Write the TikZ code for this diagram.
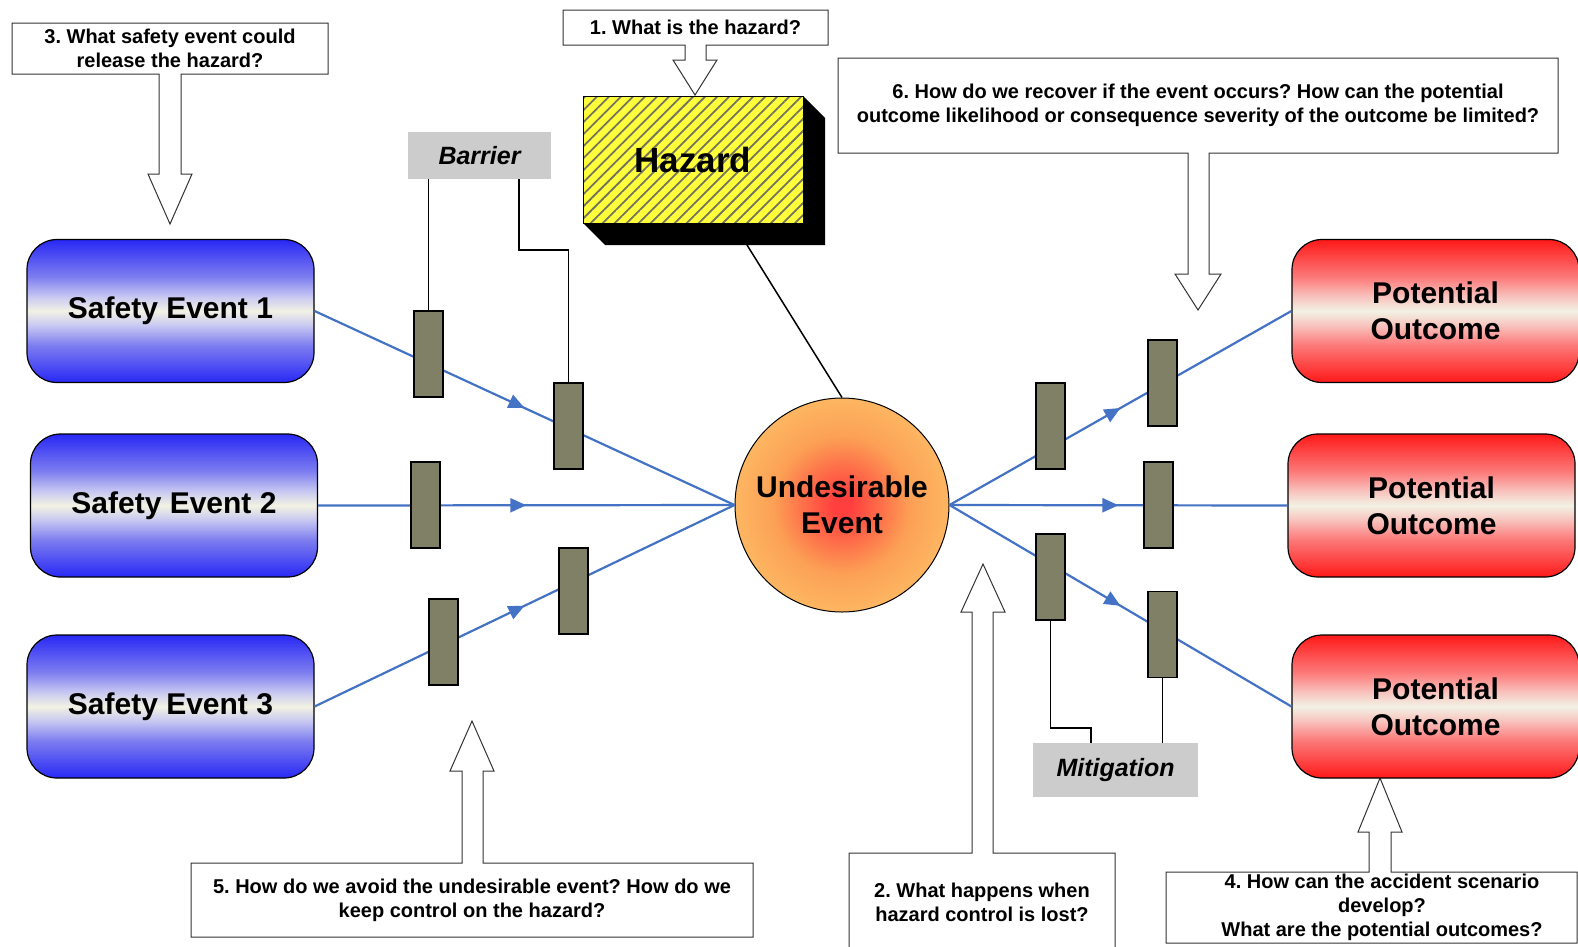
\documentclass[tikz,border=0pt]{standalone}
\usepackage{fontspec}
\setmainfont{Liberation Sans}
\frenchspacing
\usetikzlibrary{patterns.meta,arrows.meta,decorations.markings,calc}
\definecolor{lineblue}{RGB}{68,114,196}
\definecolor{barfill}{RGB}{128,128,102}
\definecolor{lblgray}{RGB}{204,204,204}
\definecolor{hazy}{RGB}{255,255,60}
\definecolor{hatchc}{RGB}{115,115,95}
\definecolor{seB}{RGB}{40,40,245}
\definecolor{seM}{RGB}{125,125,240}
\definecolor{seL}{RGB}{200,200,242}
\definecolor{seW}{RGB}{242,242,228}
\definecolor{poR}{RGB}{255,25,25}
\definecolor{poM}{RGB}{252,120,120}
\definecolor{poL}{RGB}{248,195,190}
\definecolor{ueIn}{RGB}{255,62,62}
\definecolor{ueMid}{RGB}{252,160,85}
\definecolor{ueOut}{RGB}{253,182,98}
\pgfdeclareverticalshading{sebar}{100bp}{color(0bp)=(seB); color(25bp)=(seB); color(38bp)=(seM); color(45bp)=(seL); color(50bp)=(seW); color(55bp)=(seL); color(62bp)=(seM); color(75bp)=(seB); color(100bp)=(seB)}
\pgfdeclareverticalshading{pobar}{100bp}{color(0bp)=(poR); color(25bp)=(poR); color(38bp)=(poM); color(45bp)=(poL); color(50bp)=(seW); color(55bp)=(poL); color(62bp)=(poM); color(75bp)=(poR); color(100bp)=(poR)}
\pgfdeclareradialshading{uesh}{\pgfpoint{0bp}{0bp}}{color(0bp)=(ueIn); color(2bp)=(ueIn); color(16bp)=(ueMid); color(25bp)=(ueOut); color(50bp)=(ueOut)}
\newcommand\qfont{\fontsize{20}{24}\selectfont\bfseries}
\newcommand\bigfont{\fontsize{30}{36}\selectfont\bfseries}
\begin{document}
\begin{tikzpicture}[x=1pt,y=-1pt,
  sebox/.style={draw=black,line width=1.2pt,rounded corners=30pt,shading=sebar,minimum width=287pt,minimum height=143pt,font=\bigfont,align=center},
  pobox/.style={draw=black,line width=1.2pt,rounded corners=30pt,shading=pobar,minimum width=287pt,minimum height=143pt,font=\bigfont,align=center},
  barrier/.style={draw=black,line width=1.2pt,fill=barfill,minimum width=29pt,minimum height=86pt,inner sep=0pt},
  lbl/.style={fill=lblgray,font=\fontsize{25}{30}\selectfont\bfseries\itshape,inner sep=0pt},
  callout/.style={draw=black!80,line width=1pt,fill=white},
  qtext/.style={font=\qfont,align=center,inner sep=0pt},
  flow/.style={lineblue,line width=2.2pt,postaction={decorate},decoration={markings,mark=at position 0.5 with {\arrow{Triangle[length=16pt,width=14pt]}}}},
  blk/.style={black,line width=1.5pt}]
\useasboundingbox (0,0) rectangle (1578,946);
\fill[white] (0,0) rectangle (1578,946);

% callouts
\draw[callout] (12,23) -- (328,23) -- (328,74) -- (181,74) -- (181,174) -- (192,174) -- (170,224) -- (148,174) -- (159,174) -- (159,74) -- (12,74) -- cycle;
\node[qtext] (q3) at (170,48) {3. What safety event could\\release the hazard?};
\draw[callout] (563,10) -- (828,10) -- (828,45) -- (706,45) -- (706,60) -- (717,60) -- (695,95) -- (673,60) -- (685,60) -- (685,45) -- (563,45) -- cycle;
\node[qtext] (q1) at (695.5,27.5) {1. What is the hazard?};
\draw[callout] (838,58) -- (1558,58) -- (1558,153) -- (1209,153) -- (1209,274) -- (1221,274) -- (1198,310) -- (1175,274) -- (1188,274) -- (1188,153) -- (838,153) -- cycle;
\node[qtext] (q6) at (1198,105) {6. How do we recover if the event occurs? How can the potential\\outcome likelihood or consequence severity of the outcome be limited?};
\draw[callout] (191,863) -- (462,863) -- (462,771) -- (450,771) -- (472,721) -- (494,771) -- (483,771) -- (483,863) -- (753,863) -- (753,937) -- (191,937) -- cycle;
\node[qtext] (q5) at (472,900) {5. How do we avoid the undesirable event? How do we\\keep control on the hazard?};
\draw[callout] (849,853) -- (972,853) -- (972,612) -- (961,612) -- (983,564) -- (1005,612) -- (993,612) -- (993,853) -- (1115,853) -- (1115,948) -- (849,948) -- cycle;
\node[qtext] (q2) at (982,902) {2. What happens when\\hazard control is lost?};
\draw[callout] (1166,872) -- (1369,872) -- (1369,832) -- (1358,832) -- (1380,778) -- (1402,832) -- (1391,832) -- (1391,872) -- (1577,872) -- (1577,943) -- (1166,943) -- cycle;
\node[qtext] (q4) at (1382,907) {4. How can the accident scenario\\develop?\\What are the potential outcomes?};

% hazard
\fill[black] (583,223) -- (605,245) -- (825,245) -- (825,118) -- (803,96) -- (803,223) -- cycle;
\node[draw=black,line width=1pt,preaction={fill=hazy},pattern={Lines[angle=45,distance=8.5pt,line width=1.8pt]},pattern color=hatchc,minimum width=220pt,minimum height=127pt,inner sep=0pt,font=\fontsize{35}{40}\selectfont\bfseries] (hz) at (693,159.5) {Hazard};
\coordinate (hzb) at (747,245);

% main nodes
\node[sebox] (se1) at (170.5,311) {Safety Event 1};
\node[sebox] (se2) at (174,505.5) {Safety Event 2};
\node[sebox] (se3) at (170.5,706.5) {Safety Event 3};
\node[pobox] (po1) at (1435.5,311) {Potential\\Outcome};
\node[pobox] (po2) at (1431.5,505.5) {Potential\\Outcome};
\node[pobox] (po3) at (1435.5,706.5) {Potential\\Outcome};

\node[circle,minimum size=214pt,inner sep=0pt,shading=uesh,draw=black,line width=1pt,font=\bigfont,align=center] (ue) at (842,505) {Undesirable\\Event};

% flows
\draw[flow] (se1.east) -- (ue.west);
\draw[flow] (se2.east) -- (ue.west);
\draw[flow] (se3.east) -- (ue.west);
\draw[flow] (ue.east) -- (po1.west);
\draw[flow] (ue.east) -- (po2.west);
\draw[flow] (ue.east) -- (po3.west);
\draw[blk] (hzb) -- (ue.north);

% barriers
\node[barrier] (b1) at (428.5,354) {};
\node[barrier] (b2) at (568.5,426) {};
\node[barrier] (b3) at (425.5,505) {};
\node[barrier] (b4) at (443.5,642) {};
\node[barrier] (b5) at (573.5,591) {};
\node[barrier] (r1) at (1050.5,426) {};
\node[barrier] (r2) at (1162.5,383) {};
\node[barrier] (r3) at (1158.5,505) {};
\node[barrier] (r4) at (1050.5,577) {};
\node[barrier] (r5) at (1162.5,634.5) {};

% labels
\node[lbl,minimum width=143pt,minimum height=47pt] (barl) at (479.5,155.5) {Barrier};
\node[lbl,minimum width=165pt,minimum height=54pt] (mitl) at (1115.5,770) {Mitigation};
\coordinate (bl2) at (519,179);
\coordinate (ml1) at (1091,743);
\draw[blk] (b1.north) -- (b1.north |- barl.south);
\draw[blk] (bl2) -- ++(0,71) -| (b2.north);
\draw[blk] (r4.south) |- ($(ml1)+(0,-15)$) -- (ml1);
\draw[blk] (r5.south) -- (r5.south |- mitl.north);
\end{tikzpicture}
\end{document}
